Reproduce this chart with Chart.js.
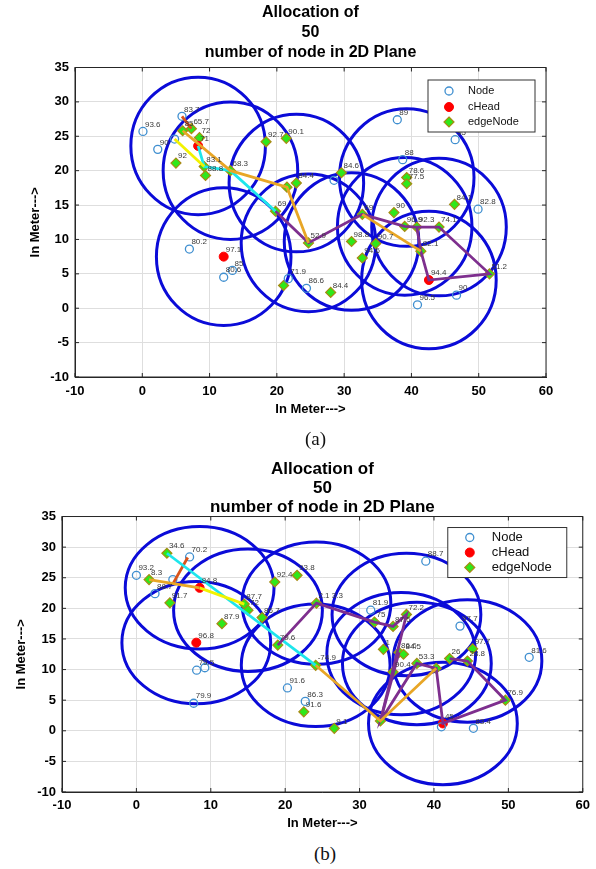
<!DOCTYPE html>
<html>
<head>
<meta charset="utf-8">
<script src="https://cdn.jsdelivr.net/npm/chart.js@4.4.1/dist/chart.umd.min.js"></script>
<style>
    body { margin: 0; background: #fff; width: 596px; height: 869px; position: relative; overflow: hidden; }
    canvas { position: absolute; left: 0; }
    #chartA { top: 0; }
    #chartB { top: 455px; }
    .caption { position: absolute; font-family: "Liberation Serif", serif; font-size: 19px; color: #111; }
</style>
</head>
<body>
<canvas id="chartA" width="596" height="430"></canvas>
<div class="caption" style="left:305px; top:428px">(a)</div>
<canvas id="chartB" width="596" height="380"></canvas>
<div class="caption" style="left:314px; top:843px">(b)</div>
<script>
// shared axis setup
const xRange = [-10, 60];
const yRange = [-10, 35];
const titleLines = ['Allocation of', '50', 'number of node in 2D Plane'];
const axisTitle = 'In Meter--->';
const seriesNames = ['Node', 'cHead', 'edgeNode'];
const nodeRange = 10; // radio range of a node, metres

// ---------- plot (a) ----------
const nodesA = [[5.9,27.9],[0.1,25.7],[2.3,23.1],[4.8,24.6],[7.0,8.6],[13.4,5.5],[12.1,4.5],[21.7,4.3],
    [24.4,2.9],[40.9,0.5],[46.7,1.9],[49.9,14.4],[37.9,27.4],[46.5,24.5],[38.7,21.6],[28.5,18.6]];
const nodesALabels = ['83.7','93.6','90','','80.2','85','80.6','71.9','86.6','96.5','90','82.8','89','95','88',''];

const headsA = [[8.3,23.6],[12.1,7.5],[42.6,4.1]];
const headsALabels = ['71','97.1','94.4'];

const edgesA = [[6.0,25.8],[7.3,26.1],[8.5,24.8],[5.0,21.1],[9.2,20.6],[9.4,19.3],[13.1,20.0],[18.4,24.2],
    [21.4,24.7],[21.5,17.6],[22.9,18.2],[19.8,14.1],[24.7,9.5],[29.6,19.7],[32.7,13.65],[37.4,13.9],
    [39.3,19.0],[39.3,18.1],[46.4,15.1],[39.0,11.9],[40.8,11.8],[44.1,11.8],[31.1,9.7],[34.7,9.4],
    [41.4,8.3],[32.7,7.3],[51.6,5.0],[28.0,2.3],[21.0,3.3]];
const edgesALabels = ['85','65.7','72','92','83.1','88.8','68.3','92.7','90.1','','84.4','69','52.9','84.6','69',
    '90','78.6','77.5','84.1','96.9','92.3','74.1','98.8','90.7','82.1','94.6','51.2','84.4',''];

const circlesA = [[8.3,23.6],[13.1,20.0],[12.1,7.5],[22.9,18.2],[24.7,9.5],[31.1,9.7],[39.3,19.0],
    [39.0,11.9],[44.1,11.8],[42.6,4.1]];

const redPathA = [[5.9,27.9],[7.3,26.1]];
const yellowPathA = [[4.8,24.6],[9.2,20.6]];
const cyanPathA = [[8.3,23.6],[9.2,20.6],[13.1,20.0],[19.8,14.1]];
const orangePathA = [[6.0,25.8],[13.1,20.0],[21.5,17.6],[24.7,9.5]];
const orangePathA2 = [[32.7,13.65],[41.4,8.3]];
const purplePathA = [[19.8,14.1],[24.7,9.5],[32.7,13.65],[39.0,11.9],[40.8,11.8]];
const purplePathA2 = [[40.8,11.8],[44.1,11.8],[51.6,5.0],[42.6,4.1],[41.4,8.3],[40.8,11.8]];

// ---------- plot (b) ----------
const nodesB = [[0.0,25.4],[7.15,28.4],[2.5,22.4],[4.9,24.7],[8.1,9.9],[9.2,10.3],[7.7,4.5],[20.3,7.0],
    [22.7,4.8],[38.9,27.7],[31.5,19.7],[43.5,17.1],[52.8,12.0],[41.0,0.65],[45.3,0.4]];
const nodesBLabels = ['93.2','70.2','88.7','','79.5','','79.9','91.6','86.3','88.7','81.9','97.7','81.6','','83.4'];

const headsB = [[8.5,23.35],[8.05,14.4],[41.2,1.2]];
const headsBLabels = ['84.8','96.8','45'];

const edgesB = [[4.1,29.0],[1.7,24.7],[4.5,20.9],[11.5,17.5],[18.6,24.3],[21.6,25.4],[14.5,20.7],[15.0,19.7],
    [16.9,18.5],[19.0,14.0],[24.1,10.7],[24.2,20.85],[32.0,17.75],[34.5,17.05],[36.3,19.0],[33.2,13.3],
    [35.3,12.8],[35.9,12.5],[37.7,11.0],[34.5,9.6],[40.3,10.2],[42.1,11.8],[44.5,11.4],[45.2,13.4],
    [32.8,1.6],[26.6,0.4],[49.6,5.0],[22.5,3.1]];
const edgesBLabels = ['34.6','8.3','91.7','87.9','92.4','93.8','87.7','72','86.7','79.6','-74.9','2.1 3.3',
    '75','87.5','72.2','1','86.6','84.5','53.3','90.4','','26','28.8','97.7','','9.1','76.9','91.6'];

const circlesB = [[8.5,23.35],[15.0,19.7],[8.05,14.4],[24.1,10.7],[24.2,20.85],[36.3,19.0],[35.6,12.6],
    [37.7,11.0],[44.5,11.4],[41.2,1.2]];

const redPathB = [[6.9,28.3],[4.9,24.0]];
const orangePathB = [[1.7,24.7],[8.5,23.35]];
const yellowPathB = [[8.5,23.35],[14.5,20.7]];
const cyanPathB = [[4.1,29.0],[24.1,10.7]];
const orangePathB2 = [[24.1,10.7],[32.8,1.6],[40.3,10.2]];
const purplePathB = [[19.0,14.0],[24.2,20.85],[32.0,17.75],[34.5,17.05],[36.3,19.0],[32.8,1.6],
    [37.7,11.0],[40.3,10.2],[41.2,1.2],[49.6,5.0],[44.5,11.4],[42.1,11.8]];
const purplePathB2 = [[35.3,12.8],[32.8,1.6]];

const FONT = '"Liberation Sans", Arial, sans-serif';

function xy(pts) {
    return pts.map((p) => ({ x: p[0], y: p[1] }));
}

function pathSet(pts, color) {
    return {
        data: xy(pts),
        showLine: true,
        borderColor: color,
        borderWidth: 2.8,
        pointRadius: 0,
        fill: false
    };
}

const nodeStyle = { pointStyle: 'circle', pointRadius: 4, pointBackgroundColor: 'rgba(255,255,255,0)', pointBorderColor: '#3f8fd0', pointBorderWidth: 1.3 };
const headStyle = { pointStyle: 'circle', pointRadius: 4.5, pointBackgroundColor: '#ff0000', pointBorderColor: '#ff0000', pointBorderWidth: 1 };
const edgeStyle = { pointStyle: 'rectRot', pointRadius: 5, pointBackgroundColor: '#2ee81a', pointBorderColor: '#a88a12', pointBorderWidth: 1.2 };

function markerSet(name, pts, labels, style) {
    return Object.assign({ label: name, data: xy(pts), pointLabels: labels, showLine: false, inLegend: true }, style);
}

function drawMarker(ctx, d, x, y) {
    const r = d.pointRadius;
    ctx.save();
    ctx.fillStyle = d.pointBackgroundColor;
    ctx.strokeStyle = d.pointBorderColor;
    ctx.lineWidth = d.pointBorderWidth;
    ctx.beginPath();
    if (d.pointStyle === 'rectRot') {
        ctx.moveTo(x, y - r); ctx.lineTo(x + r, y); ctx.lineTo(x, y + r); ctx.lineTo(x - r, y); ctx.closePath();
    } else {
        ctx.arc(x, y, r, 0, Math.PI * 2);
    }
    ctx.fill();
    ctx.stroke();
    ctx.restore();
}

// blue range circles, radius given in metres, mapped through the scales
const rangeCircles = {
    id: 'rangeCircles',
    beforeDatasetsDraw(chart, args, opts) {
        const { ctx, chartArea: a, scales: { x, y } } = chart;
        ctx.save();
        ctx.beginPath();
        ctx.rect(a.left, a.top, a.width, a.height);
        ctx.clip();
        ctx.strokeStyle = opts.color;
        ctx.lineWidth = opts.width;
        opts.centers.forEach(([cx, cy]) => {
            const px = x.getPixelForValue(cx);
            const py = y.getPixelForValue(cy);
            const rx = Math.abs(x.getPixelForValue(cx + opts.radius) - px);
            const ry = Math.abs(y.getPixelForValue(cy + opts.radius) - py);
            ctx.beginPath();
            ctx.ellipse(px, py, rx, ry, 0, 0, Math.PI * 2);
            ctx.stroke();
        });
        ctx.restore();
    }
};

// small value labels next to every node
const pointLabels = {
    id: 'pointLabels',
    afterDatasetsDraw(chart) {
        const ctx = chart.ctx;
        ctx.save();
        ctx.font = '8px ' + FONT;
        ctx.fillStyle = '#3a3a3a';
        ctx.textAlign = 'left';
        ctx.textBaseline = 'bottom';
        chart.data.datasets.forEach((d, i) => {
            if (!d.pointLabels) return;
            chart.getDatasetMeta(i).data.forEach((el, j) => {
                const t = d.pointLabels[j];
                if (t) ctx.fillText(t, el.x + 2, el.y - 3);
            });
        });
        ctx.restore();
    }
};

// matlab style frame with inner ticks, plus boxed legend inside the axes
const frameLegend = {
    id: 'frameLegend',
    afterDraw(chart, args, opts) {
        const { ctx, chartArea: a, scales: { x, y } } = chart;
        ctx.save();
        ctx.strokeStyle = '#262626';
        ctx.lineWidth = 1;
        ctx.strokeRect(a.left, a.top, a.width, a.height);
        ctx.beginPath();
        x.ticks.forEach((t) => {
            const px = x.getPixelForValue(t.value);
            ctx.moveTo(px, a.top); ctx.lineTo(px, a.top + 4);
            ctx.moveTo(px, a.bottom); ctx.lineTo(px, a.bottom - 4);
        });
        y.ticks.forEach((t) => {
            const py = y.getPixelForValue(t.value);
            ctx.moveTo(a.left, py); ctx.lineTo(a.left + 4, py);
            ctx.moveTo(a.right, py); ctx.lineTo(a.right - 4, py);
        });
        ctx.stroke();

        const bx = a.right - opts.right - opts.width;
        const by = a.top + opts.top;
        ctx.fillStyle = '#fff';
        ctx.fillRect(bx, by, opts.width, opts.height);
        ctx.strokeStyle = '#333';
        ctx.strokeRect(bx, by, opts.width, opts.height);
        ctx.font = opts.fontSize + 'px ' + FONT;
        ctx.fillStyle = '#111';
        ctx.textBaseline = 'middle';
        ctx.textAlign = 'left';
        const entries = chart.data.datasets.filter((d) => d.inLegend);
        entries.forEach((d, i) => {
            const ry = by + opts.rows[i];
            drawMarker(ctx, d, bx + opts.markerX, ry);
            ctx.fillText(d.label, bx + opts.textX, ry);
        });
        ctx.restore();
    }
};

function buildChart(canvasId, datasets, o) {
    const tickFont = { family: FONT, size: 13, weight: 'bold' };
    const titleFont = { family: FONT, size: 13, weight: 'bold', lineHeight: 1.2 };
    return new Chart(document.getElementById(canvasId), {
        type: 'scatter',
        data: { datasets: datasets },
        options: {
            responsive: false,
            animation: false,
            events: [],
            layout: { padding: { top: 0, right: o.padRight, bottom: 0, left: 0 } },
            plugins: {
                legend: { display: false },
                tooltip: { enabled: false },
                title: {
                    display: true,
                    text: titleLines,
                    fullSize: false,
                    color: '#000',
                    font: { family: FONT, size: o.titleSize, weight: 'bold', lineHeight: o.titleLine },
                    padding: { top: o.titleTop, bottom: o.titleBottom }
                },
                rangeCircles: { centers: o.circles, radius: nodeRange, color: '#0b0bd8', width: 3 },
                frameLegend: o.legend
            },
            scales: {
                x: {
                    type: 'linear',
                    min: xRange[0],
                    max: xRange[1],
                    ticks: { stepSize: 10, color: '#000', font: tickFont, padding: o.xTickPad, maxRotation: 0, autoSkip: false },
                    grid: { color: '#dedede', drawTicks: false },
                    border: { color: '#262626' },
                    title: { display: true, text: axisTitle, color: '#000', font: titleFont, padding: { top: 0, bottom: o.xTitlePad } },
                    afterFit: (s) => { s.height = o.xHeight; }
                },
                y: {
                    type: 'linear',
                    min: yRange[0],
                    max: yRange[1],
                    ticks: { stepSize: 5, color: '#000', font: tickFont, padding: 6, autoSkip: false },
                    grid: { color: '#dedede', drawTicks: false },
                    border: { color: '#262626' },
                    title: { display: true, text: axisTitle, color: '#000', font: titleFont, padding: { top: o.yTitlePad, bottom: 0 } },
                    afterFit: (s) => { s.width = o.yWidth; }
                }
            }
        },
        plugins: [rangeCircles, pointLabels, frameLegend]
    });
}

buildChart('chartA', [
    pathSet(orangePathA, '#e8a626'),
    pathSet(orangePathA2, '#e8a626'),
    pathSet(purplePathA, '#7e2f8e'),
    pathSet(purplePathA2, '#7e2f8e'),
    pathSet(yellowPathA, '#f2f200'),
    pathSet(cyanPathA, '#1ee6ec'),
    pathSet(redPathA, '#d95319'),
    markerSet(seriesNames[0], nodesA, nodesALabels, nodeStyle),
    markerSet(seriesNames[1], headsA, headsALabels, headStyle),
    markerSet(seriesNames[2], edgesA, edgesALabels, edgeStyle)
], {
    padRight: 50, yWidth: 75, xHeight: 53, xTickPad: 7, xTitlePad: 13, yTitlePad: 28,
    titleSize: 16, titleLine: 1.25, titleTop: 3, titleBottom: 4.5,
    circles: circlesA,
    legend: { right: 11, top: 12.5, width: 107, height: 52, fontSize: 11, rows: [11, 27, 42], markerX: 21, textX: 40 }
});

buildChart('chartB', [
    pathSet(orangePathB, '#e8a626'),
    pathSet(orangePathB2, '#e8a626'),
    pathSet(purplePathB, '#7e2f8e'),
    pathSet(purplePathB2, '#7e2f8e'),
    pathSet(yellowPathB, '#f2f200'),
    pathSet(cyanPathB, '#1ee6ec'),
    pathSet(redPathB, '#d95319'),
    markerSet(seriesNames[0], nodesB, nodesBLabels, nodeStyle),
    markerSet(seriesNames[1], headsB, headsBLabels, headStyle),
    markerSet(seriesNames[2], edgesB, edgesBLabels, edgeStyle)
], {
    padRight: 12, yWidth: 62, xHeight: 43, xTickPad: 6, xTitlePad: 4, yTitlePad: 14,
    titleSize: 17, titleLine: 1.118, titleTop: 4.5, titleBottom: 0,
    circles: circlesB,
    legend: { right: 16, top: 11, width: 119, height: 50, fontSize: 13, rows: [10, 25, 40], markerX: 22, textX: 44 }
});
</script>
</body>
</html>
